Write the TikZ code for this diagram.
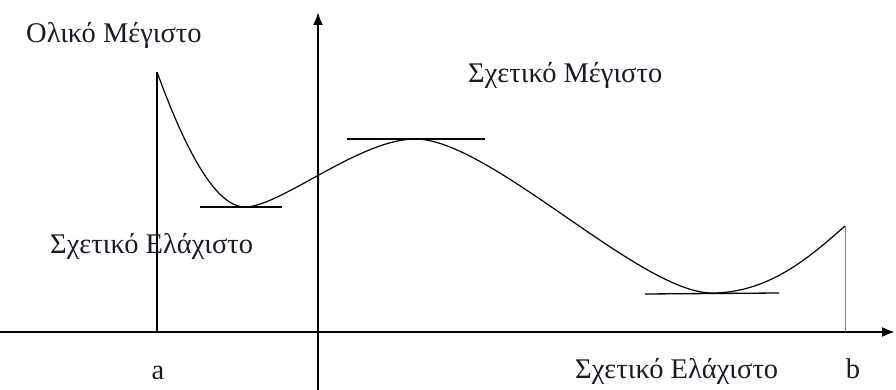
\documentclass[tikz,border=0pt]{standalone}
\usepackage{fontspec}
\setmainfont{Liberation Serif}
\usetikzlibrary{arrows.meta}
\definecolor{txt}{HTML}{1A1A28}
\begin{document}
\begin{tikzpicture}[x=1pt,y=-1pt,
  lbl/.style={font=\fontsize{28.5}{31}\selectfont,text=txt,inner sep=0pt},
  axis/.style={line width=2.2pt,-{Latex[length=13pt,width=10pt]}},
  thin/.style={line width=1.2pt},
  tang/.style={line width=1.3pt}]
\useasboundingbox (0,0) rectangle (896,390);
% coordinates
\coordinate (xs) at (0,332);
\coordinate (xe) at (895,332);
\coordinate (ys) at (318,390);
\coordinate (ye) at (318,12);
\coordinate (a0) at (157,332);
\coordinate (p0) at (157,72);
\coordinate (m1) at (245,207);
\coordinate (M1) at (415,139);
\coordinate (m2) at (712,293);
\coordinate (pb) at (845,226);
\coordinate (b0) at (845,332);
\coordinate (t1a) at (200,207);
\coordinate (t1b) at (282,207);
\coordinate (t2a) at (347,139);
\coordinate (t2b) at (485,139);
\coordinate (t3a) at (645,294);
\coordinate (t3b) at (779,293);
% axes
\draw[axis] (xs) -- (xe);
\draw[axis] (ys) -- (ye);
% verticals
\draw[thin] (a0) -- (p0);
\draw[line width=0.7pt,gray] (pb) -- (b0);
% curve
\draw[thin] (p0) .. controls (180,135) and (212,207) .. (m1)
  .. controls (280,207) and (360,139) .. (M1)
  .. controls (490,139) and (640,293) .. (m2)
  .. controls (772,293) and (815,252) .. (pb);
% tangents
\draw[tang] (t1a) -- (t1b);
\draw[tang] (t2a) -- (t2b);
\draw[tang] (t3a) -- (t3b);
% labels
\node[lbl,anchor=base west] (gmax) at (26,43) {Ολικό Μέγιστο};
\node[lbl,anchor=base west] (rmax) at (468,83) {Σχετικό Μέγιστο};
\node[lbl,anchor=base west] (rmin1) at (50,253) {Σχετικό Ελάχιστο};
\node[lbl,anchor=base west] (rmin2) at (575,378) {Σχετικό Ελάχιστο};
\node[lbl,anchor=base] (la) at (158,379) {a};
\node[lbl,anchor=base] (lb) at (853,378) {b};
\end{tikzpicture}
\end{document}
